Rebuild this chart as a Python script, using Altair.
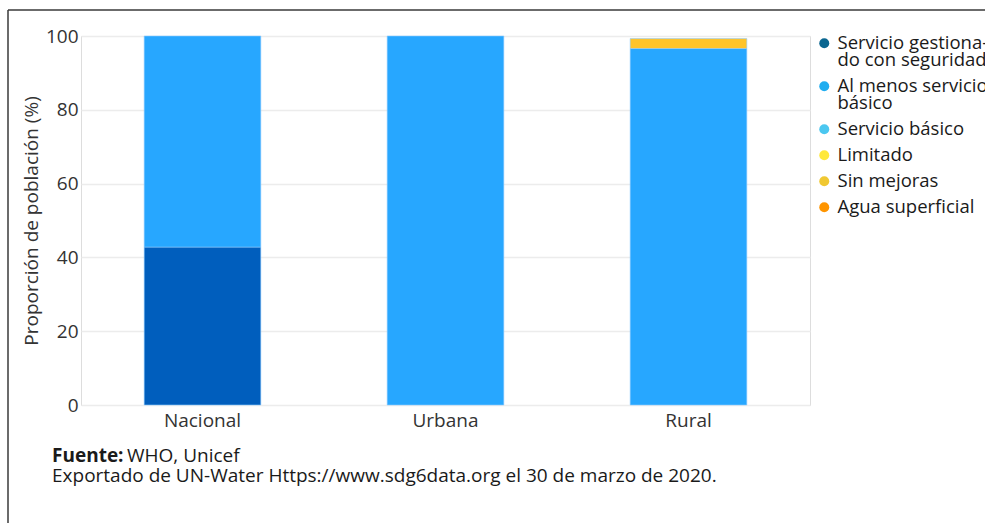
import altair as alt
import pandas as pd

# Regions on the x axis
regions = ["Nacional", "Urbana", "Rural"]

# Drinking-water service ladder, bottom of the stack first
categories = [
    "Servicio gestionado con seguridad",
    "Al menos servicio básico",
    "Servicio básico",
    "Limitado",
    "Sin mejoras",
    "Agua superficial",
]
bar_colors = ["#005EBD", "#27A7FF", "#45C3F2", "#FFE53B", "#FFC42A", "#FF9500"]
legend_colors = ["#0B6690", "#1FADF0", "#4BC7F0", "#FFE83A", "#F0C832", "#FF9500"]

# Share of population (%) per region, in category order
nacional = [42.8, 57.2, 0, 0, 0, 0]
urbana = [0, 100, 0, 0, 0, 0]
rural = [0, 96.6, 0, 0, 2.7, 0]

rows = []
for region, shares in zip(regions, [nacional, urbana, rural]):
    for i, (cat, val) in enumerate(zip(categories, shares)):
        if val > 0:
            rows.append({"region": region, "categoria": cat, "orden": i, "valor": val})
bars_df = pd.DataFrame(rows)
legend_df = pd.DataFrame({"categoria": categories})
one_row = pd.DataFrame({"k": [0]})

FONT = "Open Sans"
FS = 19
LFS = 18.5
TEXT = "#333333"

bars = alt.Chart(bars_df).mark_bar(
    stroke="#8ecbff", strokeWidth=1, strokeOpacity=0.6
).encode(
    x=alt.X(
        "region:N",
        sort=regions,
        scale=alt.Scale(paddingInner=0.52, paddingOuter=0.26),
        axis=alt.Axis(
            title=None, labelAngle=0, ticks=False, domain=False,
            labelFontSize=FS, labelColor=TEXT, labelPadding=6, labelFont=FONT,
        ),
    ),
    y=alt.Y(
        "valor:Q",
        stack="zero",
        scale=alt.Scale(domain=[0, 100]),
        axis=alt.Axis(
            title="Proporción de población (%)",
            values=[0, 20, 40, 60, 80, 100],
            ticks=False, domain=False,
            grid=True, gridColor="#ececec", gridWidth=1.5,
            labelFontSize=FS, labelColor=TEXT, labelPadding=3, labelFont=FONT,
            titleFontSize=FS, titleColor=TEXT, titleFontWeight="normal",
            titleFont=FONT, titlePadding=4,
        ),
    ),
    color=alt.Color(
        "categoria:N",
        scale=alt.Scale(domain=categories, range=bar_colors),
        legend=None,
    ),
    order=alt.Order("orden:Q", sort="ascending"),
)

label_expr = (
    "datum.label == 'Servicio gestionado con seguridad' ? "
    "['Servicio gestiona-', 'do con seguridad'] : "
    "datum.label == 'Al menos servicio básico' ? "
    "['Al menos servicio', 'básico'] : datum.label"
)

legend_layer = alt.Chart(legend_df).mark_circle(opacity=0).encode(
    color=alt.Color(
        "categoria:N",
        scale=alt.Scale(domain=categories, range=legend_colors),
        legend=alt.Legend(
            title=None,
            orient="none",
            legendX=734,
            legendY=-2,
            padding=0,
            symbolType="circle",
            symbolSize=100,
            symbolOpacity=1,
            symbolStrokeWidth=0,
            labelFontSize=LFS,
            labelFont=FONT,
            labelColor="#1a1a1a",
            labelOffset=4,
            labelLimit=400,
            rowPadding=7,
            labelExpr=label_expr,
        ),
    ),
)

# Outer frame around the figure
frame_top = alt.Chart(one_row).mark_rule(color="#3a3a3a", strokeWidth=1.5).encode(
    x=alt.value(-73), x2=alt.value(1000), y=alt.value(-26), y2=alt.value(-26)
)
frame_left = alt.Chart(one_row).mark_rule(color="#3a3a3a", strokeWidth=1.5).encode(
    x=alt.value(-73), x2=alt.value(-73), y=alt.value(-26), y2=alt.value(600)
)

# Source note below the plot
src_bold = alt.Chart(one_row).mark_text(
    align="left", baseline="alphabetic", fontSize=FS, fontWeight="bold",
    font=FONT, color="#1a1a1a",
).encode(x=alt.value(-29), y=alt.value(426), text=alt.value("Fuente:"))
src_rest = alt.Chart(one_row).mark_text(
    align="left", baseline="alphabetic", fontSize=FS, font=FONT, color="#1a1a1a",
).encode(x=alt.value(46), y=alt.value(426), text=alt.value("WHO, Unicef"))
src_line2 = alt.Chart(one_row).mark_text(
    align="left", baseline="alphabetic", fontSize=FS, font=FONT, color="#1a1a1a",
).encode(
    x=alt.value(-29), y=alt.value(446),
    text=alt.value("Exportado de UN-Water Https://www.sdg6data.org el 30 de marzo de 2020."),
)

chart = alt.layer(
    bars, legend_layer, frame_top, frame_left, src_bold, src_rest, src_line2
).resolve_scale(
    color="independent"
).properties(
    width=729,
    height=369,
    autosize=alt.AutoSizeParams(type="none"),
    padding={"left": 81, "top": 36, "right": 175, "bottom": 118},
).configure_view(
    stroke=None
).configure(
    font=FONT,
    background="white",
    style={"guide-label": {"lineHeight": 16.5}},
)

chart.save("out.html", embed_options={"renderer": "svg", "actions": False})
